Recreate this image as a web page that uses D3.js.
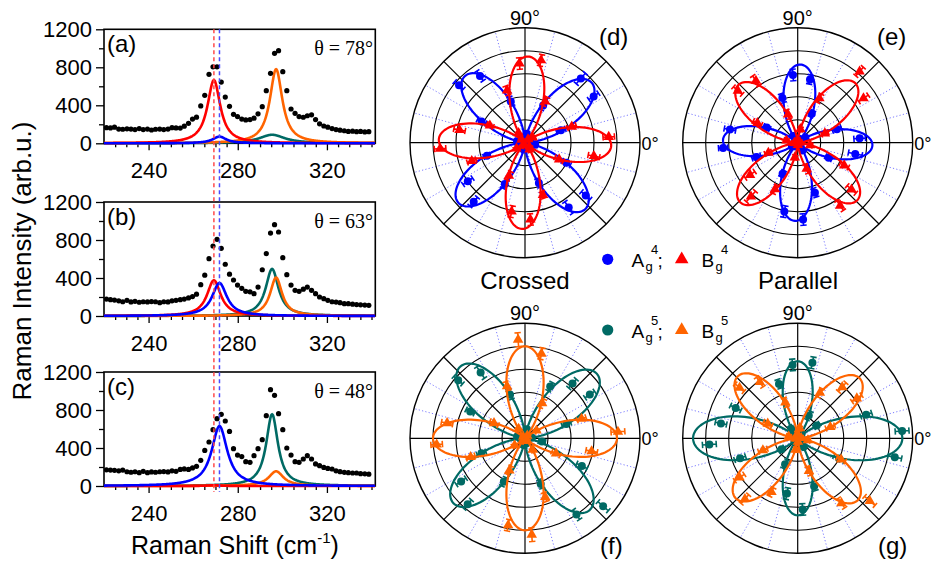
<!DOCTYPE html>
<html><head><meta charset="utf-8">
<script src="https://cdn.jsdelivr.net/npm/d3@7"></script>
<style>
body{margin:0;background:#fff;}
svg{display:block;font-family:"Liberation Sans",Arial,sans-serif;}
</style></head><body>
<svg id="chart" width="932" height="561"></svg>
<script>
// ---------------- DATA ----------------
// Raman spectra (left column)
const ramanShift = [221.1,222.9,224.7,226.6,228.4,230.3,232.1,233.9,235.8,237.6,239.5,241.3,243.1,245.0,246.8,248.7,250.5,252.3,254.2,256.0,257.9,259.7,261.5,263.4,265.2,267.1,268.9,270.7,272.6,274.4,276.3,278.1,279.9,281.8,283.6,285.5,287.3,289.1,291.0,292.8,294.7,296.5,298.3,300.2,302.0,303.9,305.7,307.5,309.4,311.2,313.1,314.9,316.7,318.6,320.4,322.3,324.1,325.9,327.8,329.6,331.5,333.3,335.1,337.0,338.8];
const spectrumA = [165,162,170,150,148,152,150,145,155,145,150,140,148,150,145,150,165,162,160,180,210,255,275,393,505,726,805,805,645,487,389,305,281,255,246,250,265,310,386,554,737,947,975,754,554,361,316,281,274,290,300,250,205,182,170,155,145,138,132,125,128,122,125,120,122];
const spectrumB = [178,172,168,160,150,165,148,155,145,150,148,152,150,140,150,148,160,165,172,178,190,205,230,330,430,603,737,807,712,545,440,379,326,291,260,255,235,305,487,656,873,961,884,614,435,326,270,260,282,305,270,235,200,182,165,150,147,140,130,130,125,120,118,115,112];
const spectrumC = [170,168,165,160,168,150,145,150,140,155,140,148,145,150,152,148,160,155,175,180,175,190,207,270,375,463,593,709,754,684,575,393,326,310,256,249,319,393,488,740,1014,954,761,593,400,326,256,249,284,319,284,232,214,196,185,179,160,151,144,140,137,137,130,128,125];
const panelLetters = ["(a)","(b)","(c)"];
const thetaLabels = ["θ = 78°","θ = 63°","θ = 48°"];
const xTicks = [240,280,320];
const yTicks = [0,400,800,1200];
const yMinorTicks = [200,600,1000];
// Lorentzian fit components: order teal (Ag5), orange (Bg5), red (Bg4), blue (Ag4)
const fitModes = ["Ag5","Bg5","Bg4","Ag4"];
const fitCentre = [295.4,297.2,269.3,271.8];
const fitHeightA = [90,780,665,70];
const fitHeightB = [495,404,376,347];
const fitHeightC = [755,155,8,630];
const fitWidthA = [14,6.8,7,7.5];
const fitWidthB = [7,6.5,7.5,8];
const fitWidthC = [6.4,8,7,8.5];
const dashedShift = [269.3,271.8];

// Polar data (right side): angle in degrees, normalised intensity
const polarAngles = [4,19,34,49,64,79,94,109,124,139,154,169,184,199,214,229,244,259,274,289,304,319,334,349];
const dAg4 = [0.05,0.33,0.72,0.74,0.36,0.08,0.05,0.38,0.70,0.76,0.42,0.07,0.04,0.35,0.60,0.68,0.40,0.06,0.05,0.37,0.68,0.70,0.40,0.09];
const dBg4 = [0.73,0.43,0.08,0.04,0.40,0.73,0.69,0.48,0.10,0.04,0.34,0.58,0.74,0.49,0.09,0.03,0.32,0.61,0.67,0.48,0.07,0.05,0.33,0.61];
const eAg4 = [0.54,0.36,0.08,0.04,0.28,0.56,0.59,0.41,0.07,0.03,0.30,0.60,0.65,0.38,0.06,0.04,0.30,0.61,0.67,0.46,0.08,0.03,0.30,0.51];
const eBg4 = [0.02,0.25,0.69,0.82,0.43,0.12,0.02,0.26,0.65,0.69,0.39,0.10,0.03,0.27,0.50,0.62,0.45,0.13,0.02,0.24,0.66,0.62,0.45,0.11];
const fAg5 = [0.06,0.38,0.68,0.63,0.50,0.08,0.05,0.40,0.69,0.77,0.53,0.07,0.04,0.40,0.67,0.76,0.42,0.06,0.05,0.42,0.80,0.90,0.55,0.15];
const fBg5 = [0.81,0.52,0.12,0.03,0.34,0.75,0.86,0.48,0.10,0.02,0.30,0.69,0.77,0.50,0.11,0.03,0.31,0.77,0.84,0.54,0.12,0.02,0.30,0.59];
const gAg5 = [0.91,0.63,0.20,0.05,0.22,0.67,0.64,0.50,0.10,0.06,0.60,0.68,0.77,0.53,0.17,0.04,0.25,0.49,0.62,0.44,0.09,0.05,0.40,0.86];
const gBg5 = [0.03,0.30,0.62,0.59,0.44,0.09,0.04,0.33,0.59,0.67,0.29,0.08,0.02,0.32,0.61,0.70,0.52,0.10,0.03,0.30,0.68,0.83,0.42,0.09];
const dAg4Err = [0.02,0.04,0.05,0.06,0.04,0.02,0.02,0.04,0.05,0.05,0.04,0.02,0.02,0.03,0.05,0.05,0.04,0.02,0.02,0.04,0.06,0.05,0.04,0.02];
const dBg4Err = [0.05,0.04,0.02,0.02,0.04,0.05,0.05,0.04,0.02,0.02,0.03,0.05,0.05,0.04,0.02,0.02,0.04,0.05,0.05,0.03,0.02,0.02,0.04,0.05];
const eAg4Err = [0.05,0.04,0.02,0.02,0.03,0.04,0.05,0.04,0.02,0.02,0.03,0.05,0.04,0.04,0.02,0.02,0.03,0.05,0.05,0.04,0.02,0.02,0.03,0.06];
const eBg4Err = [0.02,0.03,0.05,0.05,0.04,0.02,0.02,0.04,0.05,0.05,0.04,0.02,0.02,0.03,0.05,0.06,0.04,0.02,0.02,0.04,0.05,0.05,0.04,0.02];
const fAg5Err = [0.02,0.04,0.05,0.05,0.04,0.02,0.02,0.04,0.06,0.05,0.04,0.02,0.02,0.04,0.05,0.05,0.04,0.02,0.02,0.04,0.05,0.06,0.05,0.03];
const fBg5Err = [0.06,0.04,0.02,0.02,0.04,0.05,0.06,0.04,0.02,0.02,0.04,0.05,0.05,0.04,0.02,0.02,0.04,0.05,0.06,0.04,0.02,0.02,0.04,0.05];
const gAg5Err = [0.06,0.05,0.03,0.02,0.04,0.05,0.05,0.04,0.03,0.02,0.05,0.05,0.06,0.05,0.03,0.02,0.04,0.05,0.05,0.04,0.02,0.02,0.05,0.06];
const gBg5Err = [0.02,0.04,0.05,0.05,0.04,0.02,0.02,0.04,0.05,0.05,0.04,0.02,0.02,0.04,0.05,0.05,0.04,0.02,0.02,0.04,0.05,0.06,0.04,0.02];
// polar fit parameters: [lobe amplitude along phi, lobe amplitude along phi+90, phi (deg)]
const dFitAg4 = [0.78,0.78,42];
const dFitBg4 = [0.75,0.75,-2];
const eFitAg4 = [0.65,0.68,-2];
const eFitBg4 = [0.72,0.72,46];
const fFitAg5 = [0.84,0.84,42];
const fFitBg5 = [0.80,0.80,0];
const gFitAg5 = [0.91,0.67,0];
const gFitBg5 = [0.75,0.75,44];
const polarRings = [0.2,0.4,0.6,0.8,1.0];
const configLabels = ["Crossed","Parallel"];

// ---------------- DRAWING ----------------
const svg = d3.select("#chart");
const SERIF = '"Liberation Serif","Times New Roman",serif';
const C = {blue:"#0000ff", red:"#ff0000", teal:"#006a64", orange:"#ff6400"};
const fitColors = [C.teal, C.orange, C.red, C.blue];

const plotL = 104, plotR = 375.3, plotH = 114;
const panelTops = [29.3, 202, 372];
const x = d3.scaleLinear().domain([220, 341.7]).range([plotL, plotR]);
const spectra = [spectrumA, spectrumB, spectrumC];
const fitHeights = [fitHeightA, fitHeightB, fitHeightC];
const fitWidths = [fitWidthA, fitWidthB, fitWidthC];
const xSample = d3.range(220, 341.75, 0.2);

function styleAxis(s, fs){
  s.select(".domain").remove();
  s.selectAll(".tick line").attr("stroke","#000").attr("stroke-width",1.3);
  s.selectAll(".tick text").attr("fill","#000").style("font-size",fs+"px")
   .style("font-family",'"Liberation Sans",Arial,sans-serif');
}

panelTops.forEach((top, i) => {
  const y = d3.scaleLinear().domain([0,1200]).range([top+plotH, top]);
  const g = svg.append("g");
  // y axis
  g.append("g").attr("transform",`translate(${plotL},0)`)
    .call(d3.axisLeft(y).tickValues(yMinorTicks).tickSize(5).tickFormat(""))
    .call(s=>styleAxis(s,22));
  g.append("g").attr("transform",`translate(${plotL},0)`)
    .call(d3.axisLeft(y).tickValues(yTicks).tickSize(8).tickPadding(4).tickFormat(d3.format("d")))
    .call(s=>styleAxis(s,22));
  // x axis
  g.append("g").attr("transform",`translate(0,${top+plotH})`)
    .call(d3.axisBottom(x).tickValues(d3.range(225,341,5).filter(v=>v%40)).tickSize(4).tickFormat(""))
    .call(s=>styleAxis(s,22));
  g.append("g").attr("transform",`translate(0,${top+plotH})`)
    .call(d3.axisBottom(x).tickValues(xTicks).tickSize(7).tickPadding(12).tickFormat(d3.format("d")))
    .call(s=>styleAxis(s,22));
  // frame
  g.append("rect").attr("x",plotL).attr("y",top).attr("width",plotR-plotL).attr("height",plotH)
    .attr("fill","none").attr("stroke","#000").attr("stroke-width",1.6);
  // fitted components
  fitCentre.forEach((c, j) => {
    const h = fitHeights[i][j], w = fitWidths[i][j];
    const pts = xSample.map(v => [v, h/(1+Math.pow((v-c)/(w/2),2))]);
    g.append("path").datum(pts)
      .attr("d", d3.line().x(d=>x(d[0])).y(d=>y(d[1])))
      .attr("fill","none").attr("stroke",fitColors[j]).attr("stroke-width",2.6);
  });
  // measured dots
  g.selectAll("circle.dot").data(spectra[i]).enter().append("circle")
    .attr("cx",(d,k)=>x(ramanShift[k])).attr("cy",d=>y(d)).attr("r",2.6).attr("fill","#000");
  // labels
  g.append("text").attr("x",107).attr("y",top+23).style("font-size","24px").text(panelLetters[i]);
  g.append("text").attr("x",373).attr("y",top+26).attr("text-anchor","end")
    .style("font-family",SERIF).style("font-size","20px").text(thetaLabels[i]);
});
// dashed reference lines
const dashCols = ["#ff4a4a","#4a4aff"];
dashedShift.forEach((v,j)=>{
  svg.append("line").attr("x1",x(v)).attr("x2",x(v)).attr("y1",panelTops[0]).attr("y2",492)
    .attr("stroke",dashCols[j]).attr("stroke-width",1.5).attr("stroke-dasharray","4,3");
});
// axis titles
svg.append("text").attr("transform","translate(31,261) rotate(-90)").attr("text-anchor","middle")
  .style("font-size","26px").text("Raman Intensity (arb.u.)");
const xt = svg.append("text").attr("x",131).attr("y",554).style("font-size","25px");
xt.append("tspan").text("Raman Shift (cm");
xt.append("tspan").attr("dy",-11).style("font-size","15px").text("-1");
xt.append("tspan").attr("dy",11).text(")");

// ---------------- POLAR ----------------
const R = 115;
const rS = d3.scaleLinear().domain([0,1]).range([0,R]);
const rad = a => a*Math.PI/180;
function fitR(p, t){
  const d = rad(t - p[2]);
  const c2 = Math.cos(d)**2, s2 = Math.sin(d)**2;
  return Math.pow(Math.sqrt(p[0])*c2 - Math.sqrt(p[1])*s2, 2);
}
const polarPanels = [
  {cx:525, cy:142.7, letter:"(d)", lx:599, ly:45, A:dAg4, Ae:dAg4Err, Af:dFitAg4, B:dBg4, Be:dBg4Err, Bf:dFitBg4, ac:C.blue, bc:C.red},
  {cx:797.7, cy:142.7, letter:"(e)", lx:877, ly:45, A:eAg4, Ae:eAg4Err, Af:eFitAg4, B:eBg4, Be:eBg4Err, Bf:eFitBg4, ac:C.blue, bc:C.red},
  {cx:525, cy:438.3, letter:"(f)", lx:600, ly:554, A:fAg5, Ae:fAg5Err, Af:fFitAg5, B:fBg5, Be:fBg5Err, Bf:fFitBg5, ac:C.teal, bc:C.orange},
  {cx:797.7, cy:438.3, letter:"(g)", lx:878, ly:554, A:gAg5, Ae:gAg5Err, Af:gFitAg5, B:gBg5, Be:gBg5Err, Bf:gFitBg5, ac:C.teal, bc:C.orange}
];
const tri = d3.symbol().type(d3.symbolTriangle).size(48);

polarPanels.forEach(P => {
  const g = svg.append("g").attr("transform",`translate(${P.cx},${P.cy})`);
  // dotted spokes every 15 deg
  d3.range(15,360,15).filter(a=>a%45).forEach(a=>{
    g.append("line").attr("x1",0).attr("y1",0).attr("x2",rS(1)*Math.cos(rad(a))).attr("y2",-rS(1)*Math.sin(rad(a)))
      .attr("stroke","#7b7bff").attr("stroke-width",1).attr("stroke-dasharray","1.2,2.2");
  });
  polarRings.forEach(v=>{
    g.append("circle").attr("r",rS(v)).attr("fill","none").attr("stroke","#000").attr("stroke-width",v===1?1.4:1.1);
  });
  [0,45,90,135].forEach(a=>{
    g.append("line").attr("x1",-rS(1)*Math.cos(rad(a))).attr("y1",rS(1)*Math.sin(rad(a)))
      .attr("x2",rS(1)*Math.cos(rad(a))).attr("y2",-rS(1)*Math.sin(rad(a)))
      .attr("stroke","#000").attr("stroke-width",1.2);
  });
  g.append("text").attr("x",0).attr("y",-R-3).attr("text-anchor","middle").style("font-size","20px").text("90°");
  g.append("text").attr("x",R+1.5).attr("y",7).style("font-size","18px").text("0°");

  const series = [[P.A,P.Ae,P.Af,P.ac,"circle"],[P.B,P.Be,P.Bf,P.bc,"tri"]];
  series.forEach(([vals, errs, fit, col, shape]) => {
    const pts = d3.range(0,360.5,1).map(t=>[t, fitR(fit,t)]);
    g.append("path").datum(pts)
      .attr("d", d3.line().x(d=>rS(d[1])*Math.cos(rad(d[0]))).y(d=>-rS(d[1])*Math.sin(rad(d[0]))).curve(d3.curveLinearClosed))
      .attr("fill","none").attr("stroke",col).attr("stroke-width",2.2);
    vals.forEach((v,k)=>{
      const a = rad(polarAngles[k]), e = errs[k];
      const ux = Math.cos(a), uy = -Math.sin(a), nx = Math.sin(a), ny = Math.cos(a);
      const r0 = rS(Math.max(0,v-e)), r1 = rS(v+e), rm = rS(v);
      let d = `M${r0*ux},${r0*uy}L${r1*ux},${r1*uy}`;
      [r0,r1].forEach(r=>{ d += `M${r*ux-3.2*nx},${r*uy-3.2*ny}L${r*ux+3.2*nx},${r*uy+3.2*ny}`; });
      g.append("path").attr("d",d).attr("stroke",col).attr("stroke-width",1.6).attr("fill","none");
      if(shape==="circle"){
        g.append("circle").attr("cx",rm*ux).attr("cy",rm*uy).attr("r",4).attr("fill",col);
      } else {
        g.append("path").attr("d",tri).attr("transform",`translate(${rm*ux},${rm*uy})`).attr("fill",col);
      }
    });
  });
  svg.append("text").attr("x",P.lx).attr("y",P.ly).style("font-size","24px").text(P.letter);
});

// config labels
svg.append("text").attr("x",525).attr("y",289).attr("text-anchor","middle").style("font-size","24px").text(configLabels[0]);
svg.append("text").attr("x",798).attr("y",289).attr("text-anchor","middle").style("font-size","24px").text(configLabels[1]);

// legend
const legendRows = [
  {y:259.3, ac:C.blue, bc:C.red, n:"4"},
  {y:330, ac:C.teal, bc:C.orange, n:"5"}
];
legendRows.forEach(L=>{
  svg.append("circle").attr("cx",607.7).attr("cy",L.y).attr("r",5.6).attr("fill",L.ac);
  svg.append("path").attr("d",d3.symbol().type(d3.symbolTriangle).size(80)).attr("transform",`translate(681.7,${L.y})`).attr("fill",L.bc);
  const base = L.y+8;
  [["A",631.5],["B",701.5]].forEach(([letter,x0],q)=>{
    svg.append("text").attr("x",x0).attr("y",base).style("font-size","19px").text(letter);
    svg.append("text").attr("x",x0+14).attr("y",base+4).style("font-size","13px").text("g");
    svg.append("text").attr("x",x0+19.5).attr("y",base-13).style("font-size","13px").text(L.n);
    if(q===0) svg.append("text").attr("x",x0+26).attr("y",base).style("font-size","19px").text(";");
  });
});
</script>
</body></html>
